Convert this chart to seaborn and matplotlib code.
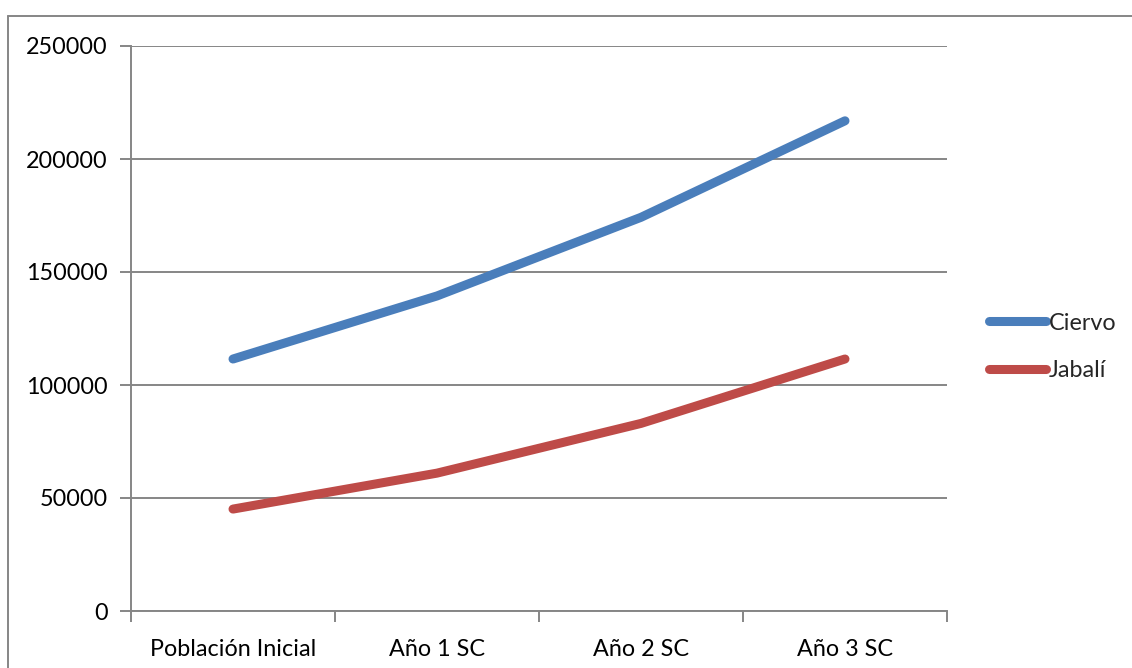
import matplotlib
matplotlib.use("Agg")
import matplotlib.pyplot as plt
import seaborn as sns
import pandas as pd
from matplotlib.lines import Line2D

categories = ["Población Inicial", "Año 1 SC", "Año 2 SC", "Año 3 SC"]
ciervo = [111500, 139400, 174200, 216900]
jabali = [45100, 61000, 83000, 111500]
series_names = ["Ciervo", "Jabalí"]
colors = ["#4A7EBB", "#BE4B48"]
yticks = [0, 50000, 100000, 150000, 200000, 250000]

sns.set_theme(style="white")
plt.rcParams['font.family'] = ['Lato', 'DejaVu Sans']

df = pd.DataFrame({
    "x": list(range(len(categories))) * 2,
    "valor": ciervo + jabali,
    "serie": [series_names[0]] * 4 + [series_names[1]] * 4,
})

fig = plt.figure(figsize=(11.32, 6.68), dpi=100)
ax = fig.add_axes([131/1132, 1 - 611/668, (947-131)/1132, (611-46)/668])

sns.lineplot(data=df, x="x", y="valor", hue="serie", palette=colors, ax=ax,
             linewidth=6.5, solid_capstyle="round", legend=False, sort=False)

ax.set_xlim(-0.5, 3.5)
ax.set_ylim(0, 250000)
ax.set_yticks(yticks)
ax.set_yticklabels([str(v) for v in yticks])
ax.set_xticks([i - 0.5 for i in range(len(categories) + 1)], minor=False)
ax.set_xticklabels([""] * (len(categories) + 1))
ax.set_xticks(range(len(categories)), minor=True)
ax.set_xticklabels(categories, minor=True)
ax.tick_params(axis="x", which="minor", bottom=True, length=0, pad=20, labelsize=16.8,
               labelcolor="black")
ax.tick_params(axis="x", which="major", bottom=True, length=8, width=1.4, color="#868686",
               direction="out")
ax.tick_params(axis="y", left=True, length=8, width=1.4, color="#868686", direction="out",
               pad=9, labelsize=16.8, labelcolor="black")
ax.set_xlabel("")
ax.set_ylabel("")

ax.yaxis.grid(True, color="#868686", linewidth=1.4)
ax.set_axisbelow(True)
for s in ["top", "right"]:
    ax.spines[s].set_visible(False)
for s in ["left", "bottom"]:
    ax.spines[s].set_color("#868686")
    ax.spines[s].set_linewidth(1.4)

handles = [Line2D([0], [0], color=c, linewidth=6.5, solid_capstyle="round") for c in colors]
fig.legend(handles, series_names, loc="center left", bbox_to_anchor=(989/1132, 1 - 347/668),
           frameon=False, fontsize=16.8, handlelength=2.45, handletextpad=0.1,
           labelspacing=1.15, borderaxespad=0, borderpad=0)

# outer chart border (top and left visible)
fig.add_artist(Line2D([8/1132, 8/1132], [0, 1 - 16/668], transform=fig.transFigure,
                      color="#868686", linewidth=1.4))
fig.add_artist(Line2D([8/1132, 1], [1 - 16/668, 1 - 16/668], transform=fig.transFigure,
                      color="#868686", linewidth=1.4))

fig.savefig("out.png", dpi=100)
